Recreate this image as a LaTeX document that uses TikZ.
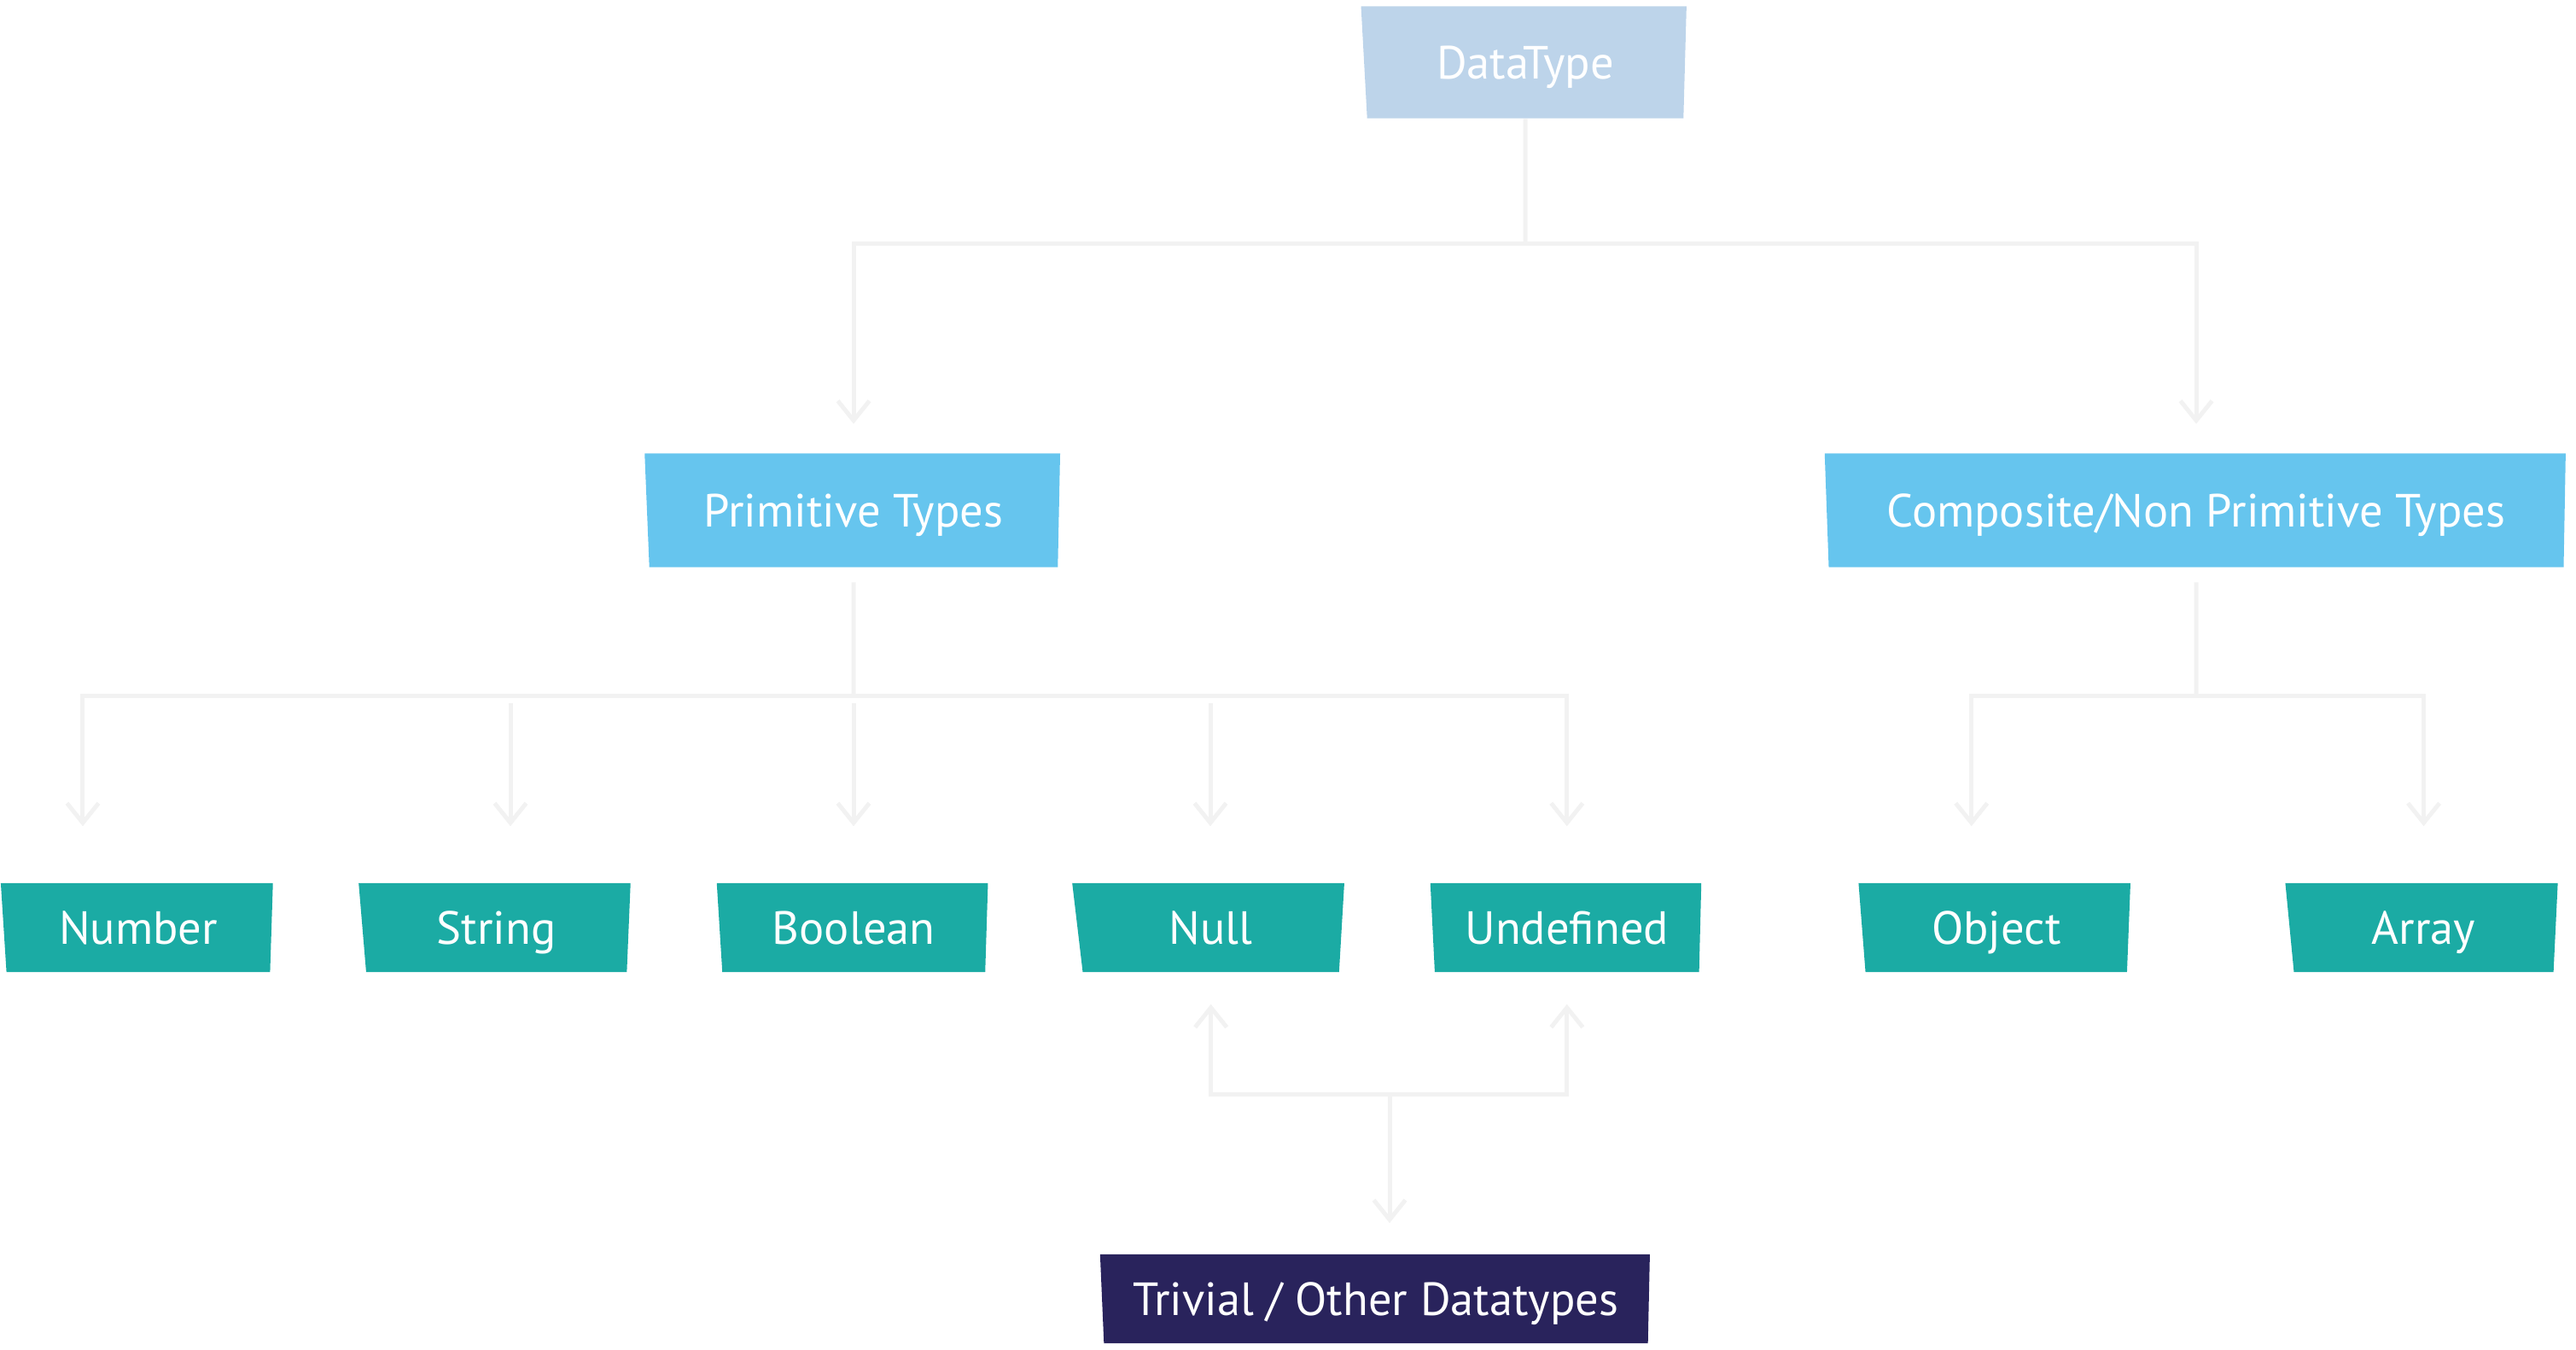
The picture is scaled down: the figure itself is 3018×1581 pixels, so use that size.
\documentclass[tikz,border=0pt]{standalone}
\usepackage{fontspec}
\setmainfont{PT Sans}
\usetikzlibrary{positioning,shapes.geometric,arrows.meta}
\definecolor{rootblue}{RGB}{189,212,234}
\definecolor{primblue}{RGB}{102,197,238}
\definecolor{leafgreen}{RGB}{27,171,164}
\definecolor{trivnavy}{RGB}{41,35,92}
\definecolor{linegray}{RGB}{242,242,242}
\tikzset{type node/.style={trapezium,trapezium left angle=87,trapezium right angle=84,shape border rotate=180,
		trapezium stretches=true,inner sep=0pt,text=white,font=\fontsize{15.5}{18}\selectfont,
		text height=10.85pt,text depth=0pt},
	root node/.style={type node,fill=rootblue,minimum width=3.83cm,minimum height=1.31cm},
	group node/.style={type node,fill=primblue,minimum height=1.33cm},
	leaf node/.style={type node,fill=leafgreen,minimum width=3.19cm,minimum height=1.04cm},
	trivial node/.style={type node,fill=trivnavy,minimum width=6.44cm,minimum height=1.04cm},
	link/.style={draw=linegray,line width=0.05cm},
}
\begin{document}
\begin{tikzpicture}[x=0.01cm,y=-0.01cm,node distance=1.05cm,>={Straight Barb[length=0.23cm,width=0.37cm]}]
	\useasboundingbox (0,0) rectangle (3018,1581);
	
	\node[root node] (dt) at (1787,73) {DataType};
	\node[group node,minimum width=4.87cm] (prim) at (1000,598) {Primitive Types};
	\node[group node,minimum width=8.69cm] (comp) at (2573,598) {Composite/Non Primitive Types};
	
	\node[leaf node] (num) at (162,1087) {Number};
	\node[leaf node] (str) [right = of num] {String};
	\node[leaf node] (bool) [right = of str] {Boolean};
	\node[leaf node] (null) [right = of bool] {Null};
	\node[leaf node] (und) [right = of null] {Undefined};
	\node[leaf node] (obj) [right = 1.88cm of und] {Object};
	\node[leaf node] (arr) [right = 1.87cm of obj] {Array};
	
	\node[trivial node] (triv) at (1612,1522) {Trivial / Other Datatypes};
	
	% junctions
	\coordinate (j1) at (1787,285);
	\coordinate (j2) at (1000,815);
	\coordinate (j3) at (2573,815);
	\coordinate (j4) at (1628,1282);
	\coordinate (s1) at (598,824);
	\coordinate (s2) at (1000,824);
	\coordinate (s3) at (1418,824);
	
	\path[link]
	(dt.south) edge (j1)
	(prim.south) edge[shorten <=0.17cm] (j2)
	(comp.south) edge[shorten <=0.17cm] (j3);
	\draw[link,->,shorten >=0.34cm] (j1) -| (prim.north);
	\draw[link,->,shorten >=0.34cm] (j1) -| (comp.north);
	\draw[link,<->,shorten <=0.66cm,shorten >=0.66cm] ([xshift=-0.65cm]num.north) |- (j2) -| (und.north);
	\draw[link,<->,shorten <=0.66cm,shorten >=0.66cm] ([xshift=-0.29cm]obj.north) |- (j3) -| (arr.north);
	\draw[link,->,shorten >=0.66cm] (s1) -- (s1 |- str.north);
	\draw[link,->,shorten >=0.66cm] (s2) -- (s2 |- bool.north);
	\draw[link,->,shorten >=0.66cm] (s3) -- (s3 |- null.north);
	\draw[link,<->,shorten <=0.37cm,shorten >=0.37cm] (null.south) |- (j4) -| (und.south);
	\draw[link,->,shorten >=0.36cm] (j4) -- (j4 |- triv.north);
\end{tikzpicture}
\end{document}
